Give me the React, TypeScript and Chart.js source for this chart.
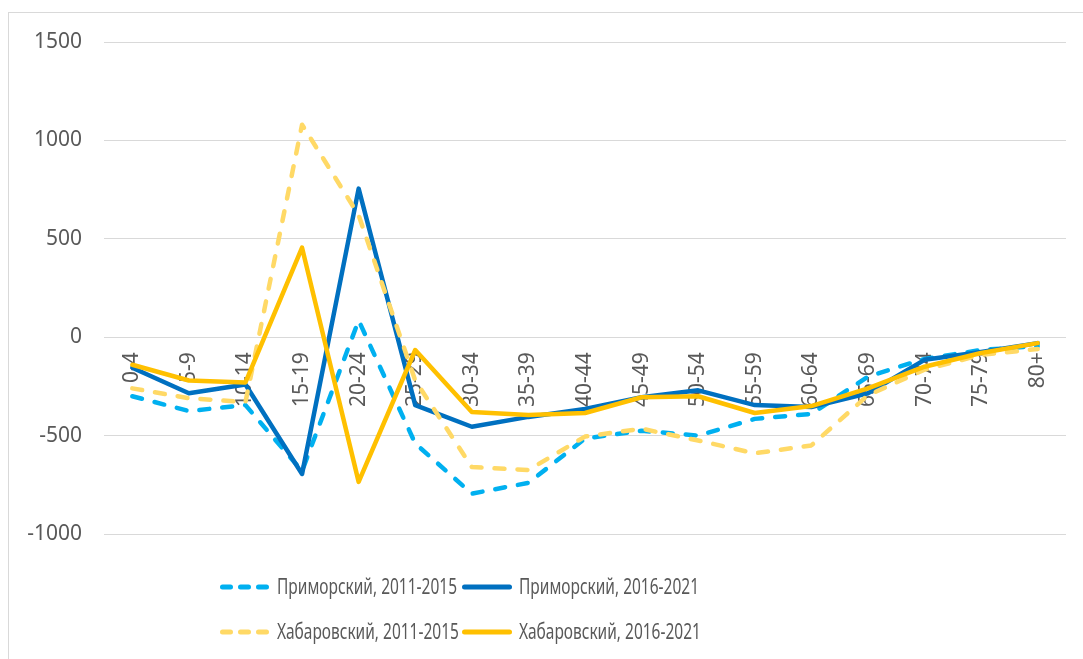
import React, { useEffect, useRef } from "react";
import { Chart, registerables } from "chart.js";

Chart.register(...registerables);

const categories = [
  "0-4", "5-9", "10-14", "15-19", "20-24", "25-29", "30-34", "35-39", "40-44",
  "45-49", "50-54", "55-59", "60-64", "65-69", "70-74", "75-79", "80+",
];

const primorsky2011 = [-300, -375, -345, -680, 85, -540, -795, -740, -515, -475, -500, -415, -390, -200, -110, -65, -45];
const primorsky2016 = [-155, -285, -240, -695, 755, -345, -455, -405, -365, -305, -270, -345, -355, -285, -115, -75, -30];
const khabarovsk2011 = [-260, -310, -330, 1080, 620, -220, -660, -675, -505, -465, -525, -590, -550, -295, -165, -90, -60];
const khabarovsk2016 = [-140, -220, -230, 455, -735, -65, -380, -395, -385, -305, -300, -385, -350, -260, -150, -80, -30];

const seriesNames = [
  "Приморский, 2011-2015",
  "Приморский, 2016-2021",
  "Хабаровский, 2011-2015",
  "Хабаровский, 2016-2021",
];

const yMin = -1000;
const yMax = 1500;
const yStep = 500;

const FONT = "'Noto Sans', 'Open Sans', sans-serif";
const TEXT = "#595959";
const GRID = "#d9d9d9";

export default function App() {
  const ref = useRef<HTMLCanvasElement>(null);

  useEffect(() => {
    if (!ref.current) return;

    const legendPlugin = {
      id: "excelLegend",
      afterDraw(chart: any) {
        const ctx = chart.ctx as CanvasRenderingContext2D;
        const area = chart.chartArea;
        const rows = [area.bottom + 53, area.bottom + 98];
        const cols = [211, 453];
        ctx.save();
        ctx.font = `21px ${FONT}`;
        const base = ctx.measureText(seriesNames[0]).width;
        const sx = 180 / base;
        chart.data.datasets.forEach((ds: any, i: number) => {
          const row = Math.floor(i / 2);
          const col = i % 2;
          const x = cols[col];
          const y = rows[row];
          ctx.save();
          ctx.strokeStyle = ds.borderColor;
          ctx.lineWidth = 5;
          ctx.lineCap = "round";
          ctx.setLineDash(ds.borderDash && ds.borderDash.length ? [8, 10] : []);
          ctx.beginPath();
          ctx.moveTo(x + 2.5, y);
          ctx.lineTo(x + 47.5, y);
          ctx.stroke();
          ctx.restore();

          ctx.save();
          ctx.fillStyle = TEXT;
          ctx.font = `21px ${FONT}`;
          ctx.textBaseline = "middle";
          ctx.textAlign = "left";
          ctx.translate(x + 57, y + 1);
          ctx.scale(sx, 1);
          ctx.fillText(ds.label, 0, 0);
          ctx.restore();
        });
        ctx.restore();
      },
    };

    const common = {
      borderWidth: 4.5,
      pointRadius: 0,
      pointHoverRadius: 0,
      tension: 0,
      fill: false,
      borderCapStyle: "round" as const,
      borderJoinStyle: "round" as const,
    };

    const chart = new Chart(ref.current, {
      type: "line",
      data: {
        labels: categories,
        datasets: [
          { ...common, label: seriesNames[0], data: primorsky2011, borderColor: "#00B0F0", backgroundColor: "#00B0F0", borderDash: [10, 13], order: 4 },
          { ...common, label: seriesNames[1], data: primorsky2016, borderColor: "#0070C0", backgroundColor: "#0070C0", order: 3 },
          { ...common, label: seriesNames[2], data: khabarovsk2011, borderColor: "#FFD966", backgroundColor: "#FFD966", borderDash: [10, 13], order: 2 },
          { ...common, label: seriesNames[3], data: khabarovsk2016, borderColor: "#FFC000", backgroundColor: "#FFC000", order: 1 },
        ],
      },
      options: {
        responsive: false,
        animation: false,
        devicePixelRatio: 1,
        layout: { padding: { left: 0, right: 17, top: 29, bottom: 125 } },
        plugins: {
          legend: { display: false },
          tooltip: { enabled: false },
        },
        scales: {
          x: {
            axis: "x",
            type: "category",
            position: { y: 0 } as any,
            offset: true,
            grid: { display: false, drawTicks: false },
            border: { display: false },
            ticks: {
              autoSkip: false,
              minRotation: 90,
              maxRotation: 90,
              padding: 15,
              color: TEXT,
              font: { family: FONT, size: 21 },
            },
          },
          y: {
            min: yMin,
            max: yMax,
            grid: {
              color: GRID,
              lineWidth: 1,
              drawTicks: true,
              tickLength: 22,
              tickColor: "rgba(0,0,0,0)",
            },
            border: { display: false },
            ticks: {
              stepSize: yStep,
              padding: 0,
              color: TEXT,
              font: { family: FONT, size: 21 },
              callback: (value: any) => String(value),
            },
            afterFit(scale: any) {
              scale.width = 95;
            },
          },
        },
      },
      plugins: [legendPlugin],
    });

    return () => chart.destroy();
  }, []);

  return (
    <div
      style={{
        position: "absolute",
        left: 8,
        top: 12,
        width: 1075,
        height: 647,
        borderTop: "1px solid #d9d9d9",
        borderLeft: "1px solid #d9d9d9",
        boxSizing: "border-box",
        overflow: "hidden",
        background: "#fff",
      }}
    >
      <canvas ref={ref} width={1074} height={646} style={{ display: "block", width: 1074, height: 646 }} />
    </div>
  );
}
